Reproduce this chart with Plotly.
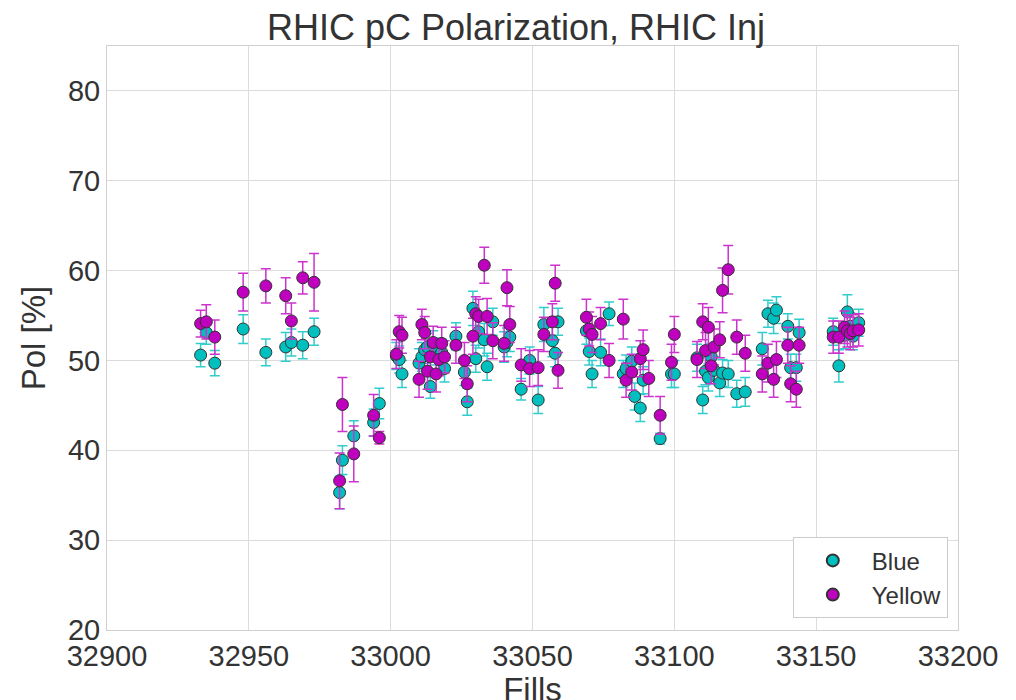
import plotly.graph_objects as go

fills = [32933, 32935, 32938, 32948, 32956, 32963, 32965, 32969, 32973,
         32982, 32983, 32987, 32994, 32996,
         33002, 33003, 33004, 33010, 33011, 33012, 33013, 33014, 33015, 33016, 33017, 33018, 33019,
         33023, 33026, 33027, 33029, 33030, 33031, 33033, 33034, 33036,
         33040, 33041, 33042, 33046, 33049, 33052, 33054, 33057, 33058, 33059,
         33069, 33070, 33071, 33074, 33077, 33082, 33083, 33085, 33086, 33088, 33089, 33091,
         33095, 33099, 33100,
         33108, 33110, 33111, 33112, 33113, 33114, 33116, 33117, 33119,
         33122, 33125, 33131, 33133, 33135, 33136, 33140, 33141, 33143, 33144,
         33156, 33158, 33160, 33161, 33162, 33163, 33165]

blue = [50.6, 53.1, 49.7, 53.5, 50.9, 51.5, 52.0, 51.7, 53.2,
        35.3, 38.9, 41.6, 43.1, 45.2,
        50.5, 50.1, 48.5, 49.7, 50.4, 51.2, 51.5, 47.1, 51.8, 51.0, 50.5, 50.9, 49.1,
        52.7, 48.7, 45.4, 55.8, 50.2, 53.2, 52.3, 49.3, 54.3,
        51.5, 52.0, 52.6, 46.8, 50.0, 45.6, 54.0, 52.2, 50.8, 54.3,
        53.3, 51.0, 48.5, 50.9, 55.2, 48.5, 49.1, 49.9, 46.0, 44.7, 47.8, None,
        41.3, 48.5, 48.5,
        50.3, 45.6, 48.8, 48.1, 50.4, 48.9, 47.5, 48.6, 48.5,
        46.3, 46.5, 51.3, 55.2, 54.7, 55.6, 53.8, 49.2, 49.2, 53.1,
        53.2, 49.4, 52.8, 55.4, 53.8, 52.7, 54.2]

blue_err = [1.3, 1.3, 1.4, 1.6, 1.5, 1.6, 1.5, 1.5, 1.5,
            1.8, 1.6, 1.7, 1.5, 1.7,
            1.5, 1.5, 1.5, 1.6, 1.6, 1.5, 1.5, 1.3, 1.5, 1.5, 1.5, 1.5, 1.5,
            1.5, 1.5, 1.5, 1.9, 1.5, 1.8, 1.8, 1.5, 1.5,
            1.7, 1.6, 1.6, 1.2, 1.5, 1.5, 1.9, 1.8, 1.5, 1.5,
            1.5, 1.5, 1.5, 1.5, 1.3, 1.5, 1.5, 1.6, 1.5, 1.5, 1.5, None,
            0.6, 1.5, 1.5,
            1.5, 1.5, 1.5, 1.5, 1.5, 1.5, 1.5, 1.5, 1.5,
            1.5, 1.6, 1.8, 1.5, 1.7, 1.5, 1.4, 1.5, 1.5, 1.5,
            1.5, 1.8, 1.5, 1.9, 1.5, 1.5, 1.5]

yellow = [54.1, 54.3, 52.6, 57.6, 58.3, 57.2, 54.4, 59.2, 58.7,
          36.6, 45.1, 39.6, 43.9, 41.4,
          50.7, 53.2, 52.8, 47.9, 54.0, 53.1, 48.8, 50.4, 52.0, 48.5, 50.1, 51.9, 50.4,
          51.7, 50.0, 47.4, 52.7, 55.2, 54.9, 60.6, 54.9, 52.2,
          51.9, 58.1, 54.0, 49.5, 49.1, 49.2, 52.9, 54.3, 58.6, 48.9,
          54.8, 53.5, 52.9, 54.1, 50.0, 54.6, 47.8, 48.7, None, 50.2, 51.2, 48.0,
          43.9, 49.8, 52.9,
          50.1, 54.3, 51.1, 53.7, 49.4, 51.5, 52.3, 57.8, 60.1,
          52.6, 50.8, 48.5, 49.7, 47.9, 50.1, 51.7, 47.4, 46.8, 51.7,
          52.6, 52.6, 53.7, 53.3, 53.0, 53.3, 53.4]

yellow_err = [1.5, 1.9, 1.9, 2.1, 1.9, 2.0, 2.0, 1.8, 3.2,
              3.1, 3.0, 3.1, 2.3, 0.7,
              1.6, 1.8, 2.0, 2.0, 1.7, 1.8, 2.0, 1.8, 1.8, 2.0, 1.8, 1.8, 1.8,
              2.0, 2.0, 2.0, 2.0, 1.9, 1.9, 2.0, 2.0, 2.0,
              2.0, 2.0, 2.0, 1.8, 2.0, 2.0, 1.9, 2.0, 2.0, 2.0,
              2.0, 1.9, 2.0, 1.8, 1.9, 2.2, 1.9, 2.0, None, 2.0, 2.2, 2.0,
              2.1, 2.0, 2.0,
              2.0, 2.0, 2.0, 2.2, 2.0, 2.0, 2.0, 2.5, 2.7,
              1.9, 2.0, 2.0, 2.1, 2.0, 2.0, 2.0, 2.0, 2.0, 2.0,
              1.8, 1.8, 1.8, 1.8, 1.8, 1.8, 1.8]

x_ticks = [32900, 32950, 33000, 33050, 33100, 33150, 33200]
y_ticks = [20, 30, 40, 50, 60, 70, 80]

FONT = "Liberation Sans, Arial, sans-serif"
CYAN = "#00BFBF"
MAGENTA = "#BF00BF"

fig = go.Figure()
fig.add_trace(go.Scatter(
    x=fills, y=blue, mode="markers", name="Blue",
    marker=dict(color=CYAN, size=12, line=dict(color="#333333", width=1)),
    error_y=dict(type="data", array=blue_err, visible=True, color="#33CCCC",
                 thickness=1.5, width=5),
))
fig.add_trace(go.Scatter(
    x=fills, y=yellow, mode="markers", name="Yellow",
    marker=dict(color=MAGENTA, size=12, line=dict(color="#333333", width=1)),
    error_y=dict(type="data", array=yellow_err, visible=True, color="#CC33CC",
                 thickness=1.5, width=5),
))

axis_common = dict(
    showgrid=True, gridcolor="#dcdcdc", gridwidth=1,
    showline=True, linecolor="#d0d0d0", linewidth=1, mirror=True,
    zeroline=False, ticks="", automargin=False,
    tickfont=dict(family=FONT, size=29, color="#333333"),
)

fig.update_layout(
    width=1016, height=700,
    paper_bgcolor="white", plot_bgcolor="white",
    margin=dict(l=99, r=66, t=38, b=78),
    title=dict(text="RHIC pC Polarization, RHIC Inj", x=0.5, xanchor="center",
               y=0.972, yanchor="middle", automargin=False,
               font=dict(family=FONT, size=36, color="#333333")),
    xaxis=dict(range=[32900, 33200], tickvals=x_ticks,
               ticktext=[str(v) for v in x_ticks],
               title=dict(text="Fills", font=dict(family=FONT, size=33, color="#333333"),
                          standoff=4),
               **axis_common),
    yaxis=dict(range=[20, 85], tickvals=y_ticks,
               ticktext=[str(v) for v in y_ticks],
               title=dict(text="Pol [%]", font=dict(family=FONT, size=33, color="#333333"),
                          standoff=12),
               **axis_common),
    legend=dict(x=0.988, y=0.02, xanchor="right", yanchor="bottom",
                bgcolor="white", bordercolor="#cccccc", borderwidth=1,
                font=dict(family=FONT, size=24, color="#333333"),
                itemwidth=68, itemsizing="constant",
                tracegroupgap=4),
    showlegend=True,
)

fig.write_html("out.html")
